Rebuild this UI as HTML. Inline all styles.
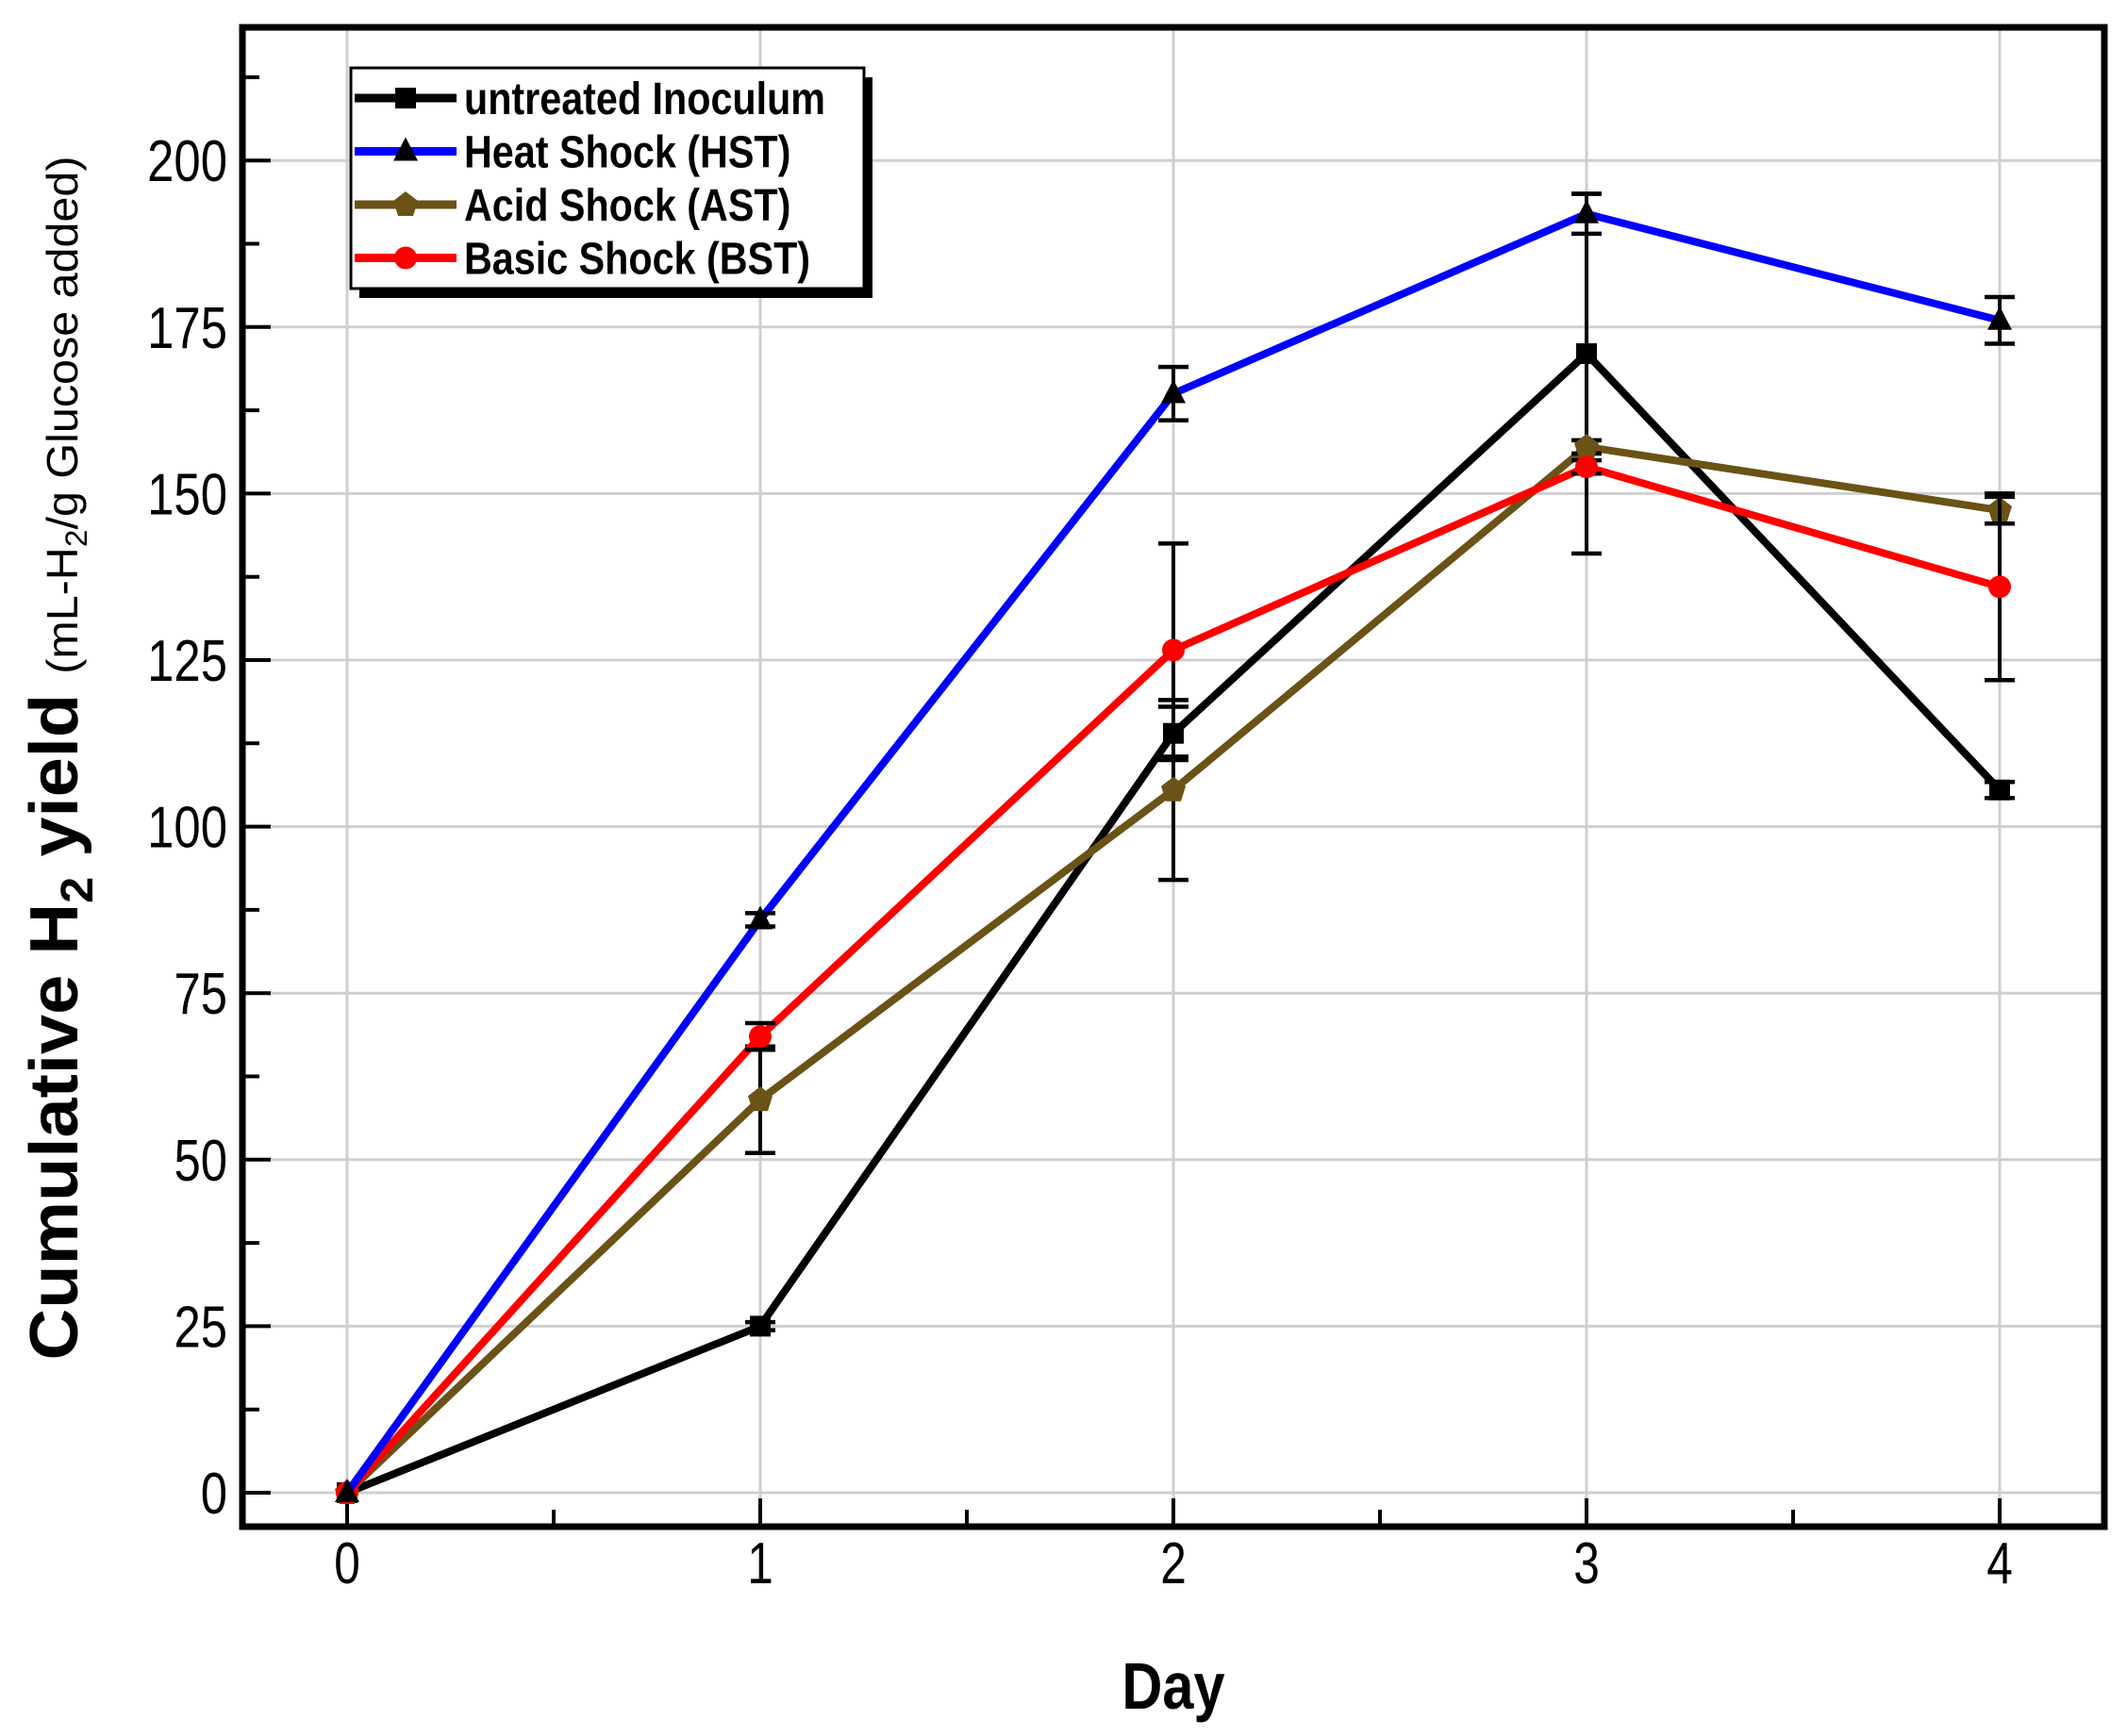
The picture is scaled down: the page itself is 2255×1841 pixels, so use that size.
<!DOCTYPE html>
<html><head><meta charset="utf-8">
<style>
html,body{margin:0;padding:0;background:#fff;}
svg{display:block;font-family:"Liberation Sans",sans-serif;}
</style></head>
<body>
<svg id="chart" width="2255" height="1841" viewBox="0 0 2255 1841"></svg>
<script>
const days = [0, 1, 2, 3, 4];
const untreated = [0, 25, 114, 171, 105.5];
const untreatedErrUp = [0, 0.6, 4, 24, 1.2];
const untreatedErrDown = [0, 0.6, 4, 30, 1.2];
const hst = [0, 86, 165, 192, 176];
const hstErr = [0, 1, 4, 3, 3.5];
const ast = [0, 59, 105.5, 157, 147.5];
const astErr = [0, 8, 13.5, 1, 2];
const bst = [0, 68.5, 126.5, 154, 136];
const bstErr = [0, 2, 16, 1, 14];
const xTicks = [0, 1, 2, 3, 4];
const yTicks = [0, 25, 50, 75, 100, 125, 150, 175, 200];

const NS = "http://www.w3.org/2000/svg";
const svg = document.getElementById('chart');
const L = 257, R = 2231, T = 29, B = 1619;
const X0 = 368, XS = 438, Y0 = 1583, YS = 176.6 / 25;
function sx(v){ return X0 + v * XS; }
function sy(v){ return Y0 - v * YS; }
function el(tag, attrs, parent){
  const e = document.createElementNS(NS, tag);
  for (const k in attrs) e.setAttribute(k, attrs[k]);
  (parent || svg).appendChild(e);
  return e;
}
function squeeze(t, f){
  const w = t.getComputedTextLength();
  if (w > 0) { t.setAttribute('textLength', w * f); t.setAttribute('lengthAdjust', 'spacingAndGlyphs'); }
}
// grid
const grid = el('g', {});


xTicks.forEach(t => el('line', {x1: sx(t), x2: sx(t), y1: T, y2: B, stroke: '#cfcfcf', 'stroke-width': 3}, grid));
yTicks.forEach(t => el('line', {x1: L, x2: R, y1: sy(t), y2: sy(t), stroke: '#cfcfcf', 'stroke-width': 3}, grid));
// frame
const frame = el('rect', {x: L, y: T, width: R - L, height: B - T, fill: 'none', stroke: '#000', 'stroke-width': 7});


// x ticks
const xAxis = el('g', {});


xTicks.forEach(t => {
  el('line', {x1: sx(t), x2: sx(t), y1: B, y2: B - 30, stroke: '#000', 'stroke-width': 4}, xAxis);
  const tx = el('text', {x: sx(t), y: B + 60, 'font-size': 62, 'text-anchor': 'middle'}, xAxis);
  tx.textContent = t;
  squeeze(tx, 0.8);
  if (t < 4) el('line', {x1: sx(t + 0.5), x2: sx(t + 0.5), y1: B, y2: B - 18, stroke: '#000', 'stroke-width': 4}, xAxis);
});
// y ticks
const yAxis = el('g', {});


yTicks.forEach(t => {
  el('line', {x1: L, x2: L + 30, y1: sy(t), y2: sy(t), stroke: '#000', 'stroke-width': 4}, yAxis);
  const ty = el('text', {x: L - 16, y: sy(t) + 22, 'font-size': 62, 'text-anchor': 'end'}, yAxis);
  ty.textContent = t;
  squeeze(ty, 0.82);
  el('line', {x1: L, x2: L + 18, y1: sy(t + 12.5), y2: sy(t + 12.5), stroke: '#000', 'stroke-width': 4}, yAxis);
});
// x title
const xt = el('text', {x: sx(2), y: 1812, 'font-size': 70, 'font-weight': 'bold', 'text-anchor': 'middle'});
xt.textContent = 'Day';


squeeze(xt, 0.85);
// y title
const ytg = el('g', {transform: 'translate(82,804) rotate(-90)'});


const yt = el('text', {x: 0, y: 0, 'text-anchor': 'middle', 'font-size': 72, 'font-weight': 'bold'}, ytg);
yt.innerHTML = 'Cumulative H<tspan font-size="48" dy="16">2</tspan><tspan dy="-16"> yield </tspan><tspan font-weight="normal" font-size="46">(mL-H</tspan><tspan font-weight="normal" font-size="32" dy="10">2</tspan><tspan font-weight="normal" font-size="46" dy="-10">/g Glucose added)</tspan>';
const yw = yt.getComputedTextLength();
if (yw > 0) { yt.setAttribute('textLength', 1277); yt.setAttribute('lengthAdjust', 'spacingAndGlyphs'); }

const series = [
  {name: 'untreated', vals: untreated, up: untreatedErrUp, down: untreatedErrDown, color: '#000000', marker: 'square'},
  {name: 'ast', vals: ast, up: astErr, down: astErr, color: '#6b5217', marker: 'pent'},
  {name: 'bst', vals: bst, up: bstErr, down: bstErr, color: '#ff0000', marker: 'circle'},
  {name: 'hst', vals: hst, up: hstErr, down: hstErr, color: '#0000ff', marker: 'tri'},
];
function marker(type, x, y, color, parent){
  let m;
  if (type === 'square') m = el('rect', {x: x - 11, y: y - 11, width: 22, height: 22, fill: '#000'}, parent);
  else if (type === 'tri') m = el('polygon', {points: `${x},${y-15} ${x-13},${y+10} ${x+13},${y+10}`, fill: '#000'}, parent);
  else if (type === 'circle') m = el('circle', {cx: x, cy: y, r: 12, fill: color}, parent);
  else m = el('polygon', {points: `${x},${y-14} ${x+13},${y-4} ${x+8},${y+12} ${x-8},${y+12} ${x-13},${y-4}`, fill: color}, parent);
  return m;
}
series.forEach(s => {
  const g = el('g', {});
  
  
  const pts = days.map((d, i) => sx(d) + ',' + sy(s.vals[i])).join(' ');
  el('polyline', {points: pts, fill: 'none', stroke: s.color, 'stroke-width': 8, 'stroke-linejoin': 'round'}, g);
  days.forEach((d, i) => {
    if (s.up[i] > 0 || s.down[i] > 0) {
      const x = sx(d), y1 = sy(s.vals[i] + s.up[i]), y2 = sy(s.vals[i] - s.down[i]);
      el('line', {x1: x, x2: x, y1: y1, y2: y2, stroke: '#000', 'stroke-width': 4}, g);
      el('line', {x1: x - 16, x2: x + 16, y1: y1, y2: y1, stroke: '#000', 'stroke-width': 4.5}, g);
      el('line', {x1: x - 16, x2: x + 16, y1: y2, y2: y2, stroke: '#000', 'stroke-width': 4.5}, g);
    }
    const m = marker(s.marker, sx(d), sy(s.vals[i]), s.color, g);
    
    
  });
});

// legend
const lg = el('g', {});


el('rect', {x: 381, y: 82, width: 544, height: 234, fill: '#000'}, lg);
el('rect', {x: 372, y: 72, width: 544, height: 234, fill: '#fff', stroke: '#000', 'stroke-width': 3}, lg);
const legendItems = [
  {label: 'untreated Inoculum', color: '#000', marker: 'square'},
  {label: 'Heat Shock (HST)', color: '#0000ff', marker: 'tri'},
  {label: 'Acid Shock (AST)', color: '#6b5217', marker: 'pent'},
  {label: 'Basic Shock (BST)', color: '#ff0000', marker: 'circle'},
];
legendItems.forEach((it, i) => {
  const y = 104 + i * 56.5;
  const g = el('g', {}, lg);
  
  
  el('line', {x1: 376, x2: 484, y1: y, y2: y, stroke: it.color, 'stroke-width': 9}, g);
  marker(it.marker, 430, y, it.color, g);
  const t = el('text', {x: 492, y: y + 17, 'font-size': 48, 'font-weight': 'bold'}, g);
  t.textContent = it.label;
  squeeze(t, 0.86);
});
</script>
</body></html>
